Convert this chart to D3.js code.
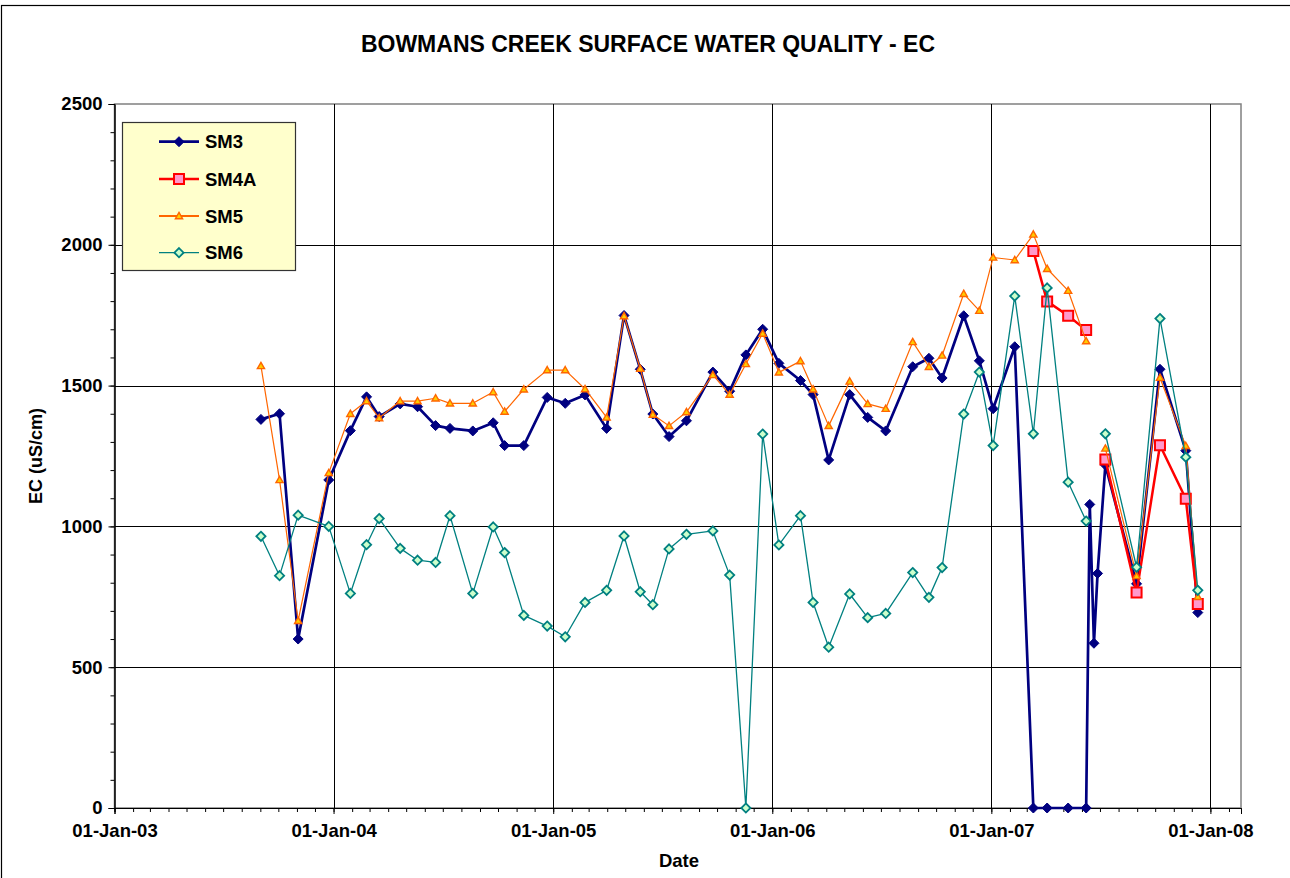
<!DOCTYPE html>
<html><head><meta charset="utf-8">
<script src="https://cdn.jsdelivr.net/npm/d3@7"></script>
<style>
body{margin:0;background:#fff}
svg{display:block}
text{font-family:"Liberation Sans",Arial,Helvetica,sans-serif;font-weight:bold;fill:#000}
</style>
</head><body>
<svg id="chart" width="1290" height="878"></svg>
<script>
// ---- data ----
const dates = ["2003-09-02","2003-10-03","2003-11-03","2003-12-24","2004-01-29","2004-02-25","2004-03-17","2004-04-21","2004-05-20","2004-06-19","2004-07-13","2004-08-20","2004-09-23","2004-10-12","2004-11-13","2004-12-22","2005-01-21","2005-02-23","2005-03-31","2005-04-29","2005-05-26","2005-06-16","2005-07-13","2005-08-11","2005-09-24","2005-10-22","2005-11-18","2005-12-16","2006-01-12","2006-02-17","2006-03-10","2006-04-05","2006-05-10","2006-06-09","2006-07-09","2006-08-23","2006-09-19","2006-10-11","2006-11-16","2006-12-12","2007-01-04","2007-02-09","2007-03-12","2007-04-04","2007-05-09","2007-06-08","2007-06-14","2007-06-21","2007-06-27","2007-07-10","2007-08-31","2007-10-09","2007-11-21","2007-12-11"];
const sm3 = [1380,1400,600,1165,1340,1460,1390,1435,1425,1358,1348,1339,1368,1287,1287,1458,1437,1467,1348,1749,1558,1399,1319,1375,1548,1480,1609,1700,1579,1518,1468,1236,1468,1387,1339,1567,1597,1527,1748,1588,1418,1638,0,0,0,0,1078,585,833,1218,796,1558,1269,694];
const sm4a = [null,null,null,null,null,null,null,null,null,null,null,null,null,null,null,null,null,null,null,null,null,null,null,null,null,null,null,null,null,null,null,null,null,null,null,null,null,null,null,null,null,null,1978,1799,1748,1697,null,null,null,1238,765,1288,1098,724];
const sm5 = [1570,1165,665,1190,1400,1445,1385,1445,1445,1455,1437,1437,1477,1408,1487,1555,1555,1488,1387,1747,1560,1397,1357,1406,1538,1468,1577,1685,1547,1587,1487,1357,1515,1435,1418,1655,1567,1607,1826,1766,1955,1946,2037,1915,1837,1658,null,null,null,1277,824,1528,1286,750];
const sm6 = [965,825,1040,1000,762,935,1028,922,880,872,1038,762,998,907,684,646,608,730,773,966,768,722,920,972,984,827,0,1328,934,1038,730,571,760,676,691,836,748,854,1399,1548,1287,1818,1329,1847,1157,1019,null,null,null,1329,855,1738,1246,773];
const seriesNames = ["SM3","SM4A","SM5","SM6"];
const yTicks = [0,500,1000,1500,2000,2500];
const xTickDates = ["2003-01-01","2004-01-01","2005-01-01","2006-01-01","2007-01-01","2008-01-01"];
const xDomain = ["2003-01-01","2008-02-21"];
const titleText = "BOWMANS CREEK SURFACE WATER QUALITY - EC";
const xTitle = "Date";
const yTitle = "EC (uS/cm)";

// ---- setup ----
const parse = d3.utcParse("%Y-%m-%d");
const svg = d3.select("#chart");
const L = 114.5, R = 1241, T = 104, B = 808;
const x = d3.scaleUtc().domain(xDomain.map(parse)).range([L, R]);
const y = d3.scaleLinear().domain([0, 2500]).range([B, T]);

// outer frame
svg.append("rect").attr("x",1.5).attr("y",5.5).attr("width",1400).attr("height",1000)
  .attr("fill","#fff").attr("stroke","#000").attr("stroke-width",1.2);

// title
svg.append("text").attr("x",648).attr("y",52).attr("text-anchor","middle")
  .style("font-size","23px").text(titleText);

// plot area
svg.append("rect").attr("x",L).attr("y",T).attr("width",R-L).attr("height",B-T)
  .attr("fill","#fff").attr("stroke","#808080").attr("stroke-width",1.5);

const g = svg.append("g").attr("shape-rendering","crispEdges");
// horizontal gridlines
g.selectAll(".hg").data(yTicks.filter(d=>d>0 && d<2500)).enter().append("line")
  .attr("x1",L).attr("x2",R).attr("y1",d=>Math.round(y(d))+0.5).attr("y2",d=>Math.round(y(d))+0.5)
  .attr("stroke","#000").attr("stroke-width",1);
// vertical gridlines
g.selectAll(".vg").data(xTickDates.slice(1).map(parse)).enter().append("line")
  .attr("y1",T).attr("y2",B).attr("x1",d=>Math.round(x(d))+0.5).attr("x2",d=>Math.round(x(d))+0.5)
  .attr("stroke","#000").attr("stroke-width",1);

// x axis
const xAxis = d3.axisBottom(x).tickValues(xTickDates.map(parse)).tickFormat(d3.utcFormat("%d-%b-%y"))
  .tickSize(6).tickPadding(10);
const xMinor = d3.axisBottom(x).tickValues(d3.utcMonth.range(parse("2003-01-01"), parse("2008-02-21"))).tickFormat("").tickSize(4);
const gxm = svg.append("g").attr("transform",`translate(0,${B})`).call(xMinor);
const gx = svg.append("g").attr("transform",`translate(0,${B})`).call(xAxis);
[gx,gxm].forEach(a=>{a.select(".domain").attr("stroke","#000");a.selectAll("line").attr("stroke","#000");});
gx.selectAll("text").style("font-size","18.5px").style("font-family",'"Liberation Sans",Arial,sans-serif').style("font-weight","bold").attr("fill","#000");

// y axis
const yAxis = d3.axisLeft(y).tickValues(yTicks).tickFormat(d3.format("d")).tickSize(6).tickPadding(6);
const yMinor = d3.axisLeft(y).tickValues(d3.range(0,2501,100)).tickFormat("").tickSize(4);
const gym = svg.append("g").attr("transform",`translate(${L},0)`).call(yMinor);
const gy = svg.append("g").attr("transform",`translate(${L},0)`).call(yAxis);
[gy,gym].forEach(a=>{a.select(".domain").attr("stroke","#000");a.selectAll("line").attr("stroke","#000");});
gy.selectAll("text").style("font-size","18.5px").style("font-family",'"Liberation Sans",Arial,sans-serif').style("font-weight","bold").attr("fill","#000");

// axis titles
svg.append("text").attr("x",679).attr("y",867).attr("text-anchor","middle").style("font-size","18.5px").text(xTitle);
svg.append("text").attr("transform","translate(42,456) rotate(-90)").attr("text-anchor","middle").style("font-size","18px").text(yTitle);

// marker shapes
function diamond(r){return `M0,${-r}L${r},0L0,${r}L${-r},0Z`;}
function tri(r){return `M0,${-r}L${r},${r*0.75}L${-r},${r*0.75}Z`;}
const styles = {
  SM3:{values:sm3,line:"#000080",lw:2.7,shape:"diamond",size:5,fill:"#000080",stroke:"#000080",sw:1},
  SM4A:{values:sm4a,line:"#FF0000",lw:2.5,shape:"square",size:5,fill:"#FF99CC",stroke:"#FF0000",sw:2},
  SM5:{values:sm5,line:"#FF6600",lw:1.2,shape:"tri",size:3.6,fill:"#FFCC00",stroke:"#FF6600",sw:1.4},
  SM6:{values:sm6,line:"#008080",lw:1.3,shape:"diamond",size:4.6,fill:"#CCFFCC",stroke:"#008080",sw:1.8}
};
function markerPath(st){
  if(st.shape==="diamond") return diamond(st.size);
  if(st.shape==="tri") return tri(st.size);
  const s=st.size; return `M${-s},${-s}H${s}V${s}H${-s}Z`;
}

const pd = dates.map(parse);
const gs = svg.append("g");
seriesNames.forEach(name=>{
  const st = styles[name];
  const pts = pd.map((d,i)=>({d, v: st.values[i]}));
  const line = d3.line().defined(p=>p.v!==null).x(p=>x(p.d)).y(p=>y(p.v));
  gs.append("path").attr("d",line(pts)).attr("fill","none").attr("stroke",st.line)
    .attr("stroke-width",st.lw).attr("stroke-linejoin","round");
  gs.selectAll(null).data(pts.filter(p=>p.v!==null)).enter().append("path")
    .attr("transform",p=>`translate(${x(p.d)},${y(p.v)})`)
    .attr("d",markerPath(st)).attr("fill",st.fill).attr("stroke",st.stroke).attr("stroke-width",st.sw);
});

// legend
const lg = svg.append("g");
lg.append("rect").attr("x",122.5).attr("y",122.5).attr("width",173).attr("height",148)
  .attr("fill","#FFFFCC").attr("stroke","#333").attr("stroke-width",1.2);
const legY = [141.7,179,216,252.7];
seriesNames.forEach((name,i)=>{
  const st = styles[name];
  const ly = legY[i];
  lg.append("line").attr("x1",159).attr("x2",199).attr("y1",ly).attr("y2",ly)
    .attr("stroke",st.line).attr("stroke-width",name==="SM5"?2:st.lw);
  lg.append("path").attr("transform",`translate(179,${ly})`).attr("d",markerPath(st))
    .attr("fill",st.fill).attr("stroke",st.stroke).attr("stroke-width",st.sw);
  lg.append("text").attr("x",205).attr("y",ly+6.5).style("font-size","18.5px").text(name);
});
</script>
</body></html>
